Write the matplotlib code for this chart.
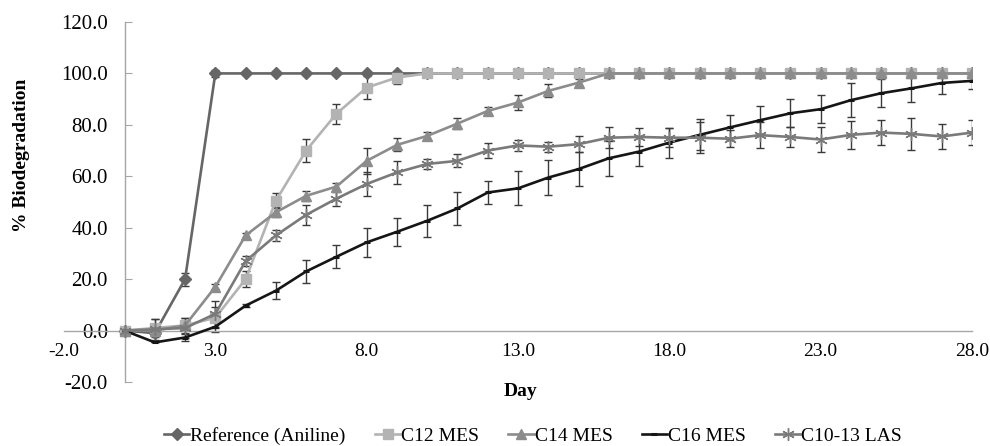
import matplotlib
matplotlib.use("Agg")
import matplotlib.pyplot as plt

plt.rcParams['font.family'] = ['Liberation Serif', 'DejaVu Serif']

days = list(range(0, 29))

ref = [0, -1, 20, 100, 100, 100, 100, 100, 100, 100, 100, 100, 100, 100, 100,
       100, 100, 100, 100, 100, 100, 100, 100, 100, 100, 100, 100, 100, 100]
ref_err = [0, 0, 2.5, 1.5, 0, 0, 0, 0, 0, 0, 0, 0, 0, 0, 0,
           0, 0, 0, 0, 0, 0, 0, 0, 0, 0, 0, 0, 0, 0]

c12 = [0, 1, 2, 5, 20, 50.5, 70, 84.3, 94.5, 98.4, 100, 100, 100, 100, 100,
       100, 100, 100, 100, 100, 100, 100, 100, 100, 100, 100, 100, 100, 100]
c12_err = [0, 3.5, 3, 4, 3, 3, 4.5, 4, 4.5, 2.5, 0, 0, 0, 0, 0,
           0, 0, 0, 0, 0, 0, 0, 0, 0, 0, 0, 0, 0, 0]

c14 = [0, 0, 2, 17, 37, 46, 52.4, 56, 66, 72.2, 75.7, 80.5, 85.4, 88.7, 93.2,
       96.4, 100, 100, 100, 100, 100, 100, 100, 100, 100, 100, 100, 100, 100]
c14_err = [0, 0, 1, 1, 1, 2, 2, 1.5, 5, 2.5, 1.5, 2, 1.5, 3, 2.5,
           1.5, 0, 0, 0, 0, 0, 0, 0, 0, 0, 0, 0, 0, 0]

c16 = [0, -4.6, -2.7, 1.5, 9.7, 15.5, 23, 28.7, 34.3, 38.4, 42.7, 47.5, 53.7, 55.3, 59.5,
       62.8, 67, 69.6, 73.1, 76.1, 79, 81.8, 84.5, 86.1, 89.6, 92.3, 94.2, 96.3, 97.1]
c16_err = [0, 0, 1.5, 2, 0.5, 3.2, 4.5, 4.4, 5.6, 5.5, 6.3, 6.5, 4.5, 6.6, 6.8,
           6.6, 6.9, 5.6, 5.8, 6, 5, 5.5, 5.5, 5.5, 6.7, 5.4, 5.2, 4.2, 3]

las = [0, 0.5, 1, 6.5, 27, 37, 45, 51.3, 57, 61.5, 64.8, 66, 70, 72, 71.5,
       72.5, 75, 75.3, 75, 75, 74.6, 76, 75.3, 74.3, 76.1, 77, 76.5, 75.5, 77]
las_err = [0, 4, 4, 5, 2, 2, 4, 2.7, 4.5, 4.4, 2, 2.5, 3, 2, 2,
           3, 4, 3.5, 3.8, 6, 3.4, 5, 4, 5, 5.3, 4.9, 6.2, 5, 5]

labels = ["Reference (Aniline)", "C12 MES", "C14 MES", "C16 MES", "C10-13 LAS"]
xticks = [-2, 3, 8, 13, 18, 23, 28]
yticks = [-20, 0, 20, 40, 60, 80, 100, 120]

W, H = 990, 446
fig = plt.figure(figsize=(W / 100, H / 100), dpi=100)
ax = fig.add_axes([64 / W, 1 - 382 / H, (972 - 64) / W, (382 - 22) / H])

styles = [
    dict(color='#666666', marker='D', ms=6.5, lw=1.9),
    dict(color='#b3b3b3', marker='s', ms=6.5, lw=1.9),
    dict(color='#8c8c8c', marker='^', ms=6.5, lw=1.9),
    dict(color='#151515', marker='_', ms=5, mew=2.2, lw=1.9),
    dict(color='#7a7a7a', marker=(6, 2, 0), ms=9, mew=1.0, lw=1.9),
]
series = [(ref, ref_err), (c12, c12_err), (c14, c14_err), (c16, c16_err), (las, las_err)]

handles = []
for (vals, errs), st, lab in zip(series, styles, labels):
    ax.errorbar(days, vals, yerr=errs, fmt='none', ecolor='#3a3a3a',
                elinewidth=1.0, capsize=3, capthick=1.0, zorder=2)
    h, = ax.plot(days, vals, label=lab, zorder=3, **st)
    handles.append(h)

ax.set_xlim(-2, 28)
ax.set_ylim(-20, 120)
ax.set_xticks(xticks)
ax.set_xticklabels([f"{t:.1f}" for t in xticks])
ax.set_yticks(yticks)
ax.set_yticklabels([f"{t:.1f}" for t in yticks])

for s in ['top', 'right']:
    ax.spines[s].set_visible(False)
ax.spines['left'].set_position(('data', 0))
ax.spines['bottom'].set_position(('data', 0))
for s in ['left', 'bottom']:
    ax.spines[s].set_color('#a6a6a6')
    ax.spines[s].set_linewidth(1.0)

ax.tick_params(axis='y', direction='in', length=5, color='#a6a6a6', pad=12,
               labelsize=15, colors='#a6a6a6', labelcolor='black')
ax.tick_params(axis='x', length=0, pad=9, labelsize=14)

fig.text(22 / W, 1 - 155 / H, "% Biodegradation", rotation=90, ha='center', va='center',
         fontsize=14, fontweight='bold')
fig.text(520 / W, 1 - 391 / H, "Day", ha='center', va='center',
         fontsize=14, fontweight='bold')

fig.legend(handles=handles, labels=labels, loc='center', ncol=5, frameon=False,
           bbox_to_anchor=(533 / W, 1 - 436 / H), fontsize=14, handlelength=1.3,
           handletextpad=0.05, columnspacing=1.5, borderaxespad=0)

fig.savefig("out.png", dpi=100)
